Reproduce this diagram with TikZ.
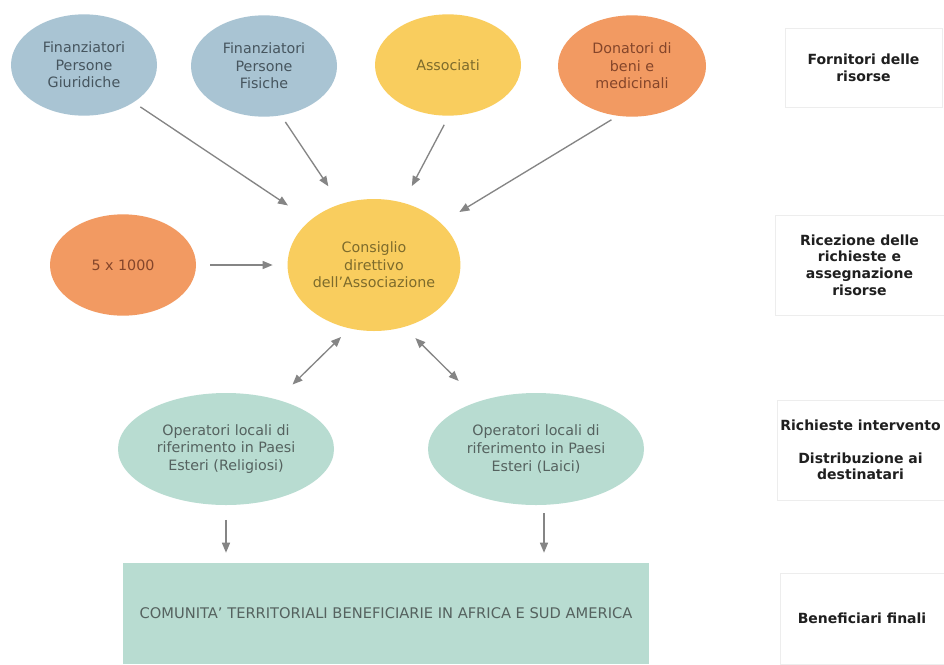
\documentclass[tikz,border=0pt]{standalone}
\usepackage{fontspec}
\setmainfont{DejaVu Sans}
\usetikzlibrary{arrows.meta,shapes.geometric}
\definecolor{cblue}{HTML}{A9C4D3}
\definecolor{cyellow}{HTML}{F9CD5E}
\definecolor{corange}{HTML}{F29A62}
\definecolor{cteal}{HTML}{B8DCD1}
\definecolor{tblue}{HTML}{46555E}
\definecolor{tyellow}{HTML}{7D6B2C}
\definecolor{torange}{HTML}{84452A}
\definecolor{tteal}{HTML}{55625F}
\definecolor{arrgray}{HTML}{858585}
\begin{document}
\begin{tikzpicture}[x=0.75pt,y=-0.75pt,
  ell/.style={ellipse, inner sep=0pt, align=center, font=\fontsize{10.7}{13.2}\selectfont},
  topell/.style={ell, minimum width=109.5pt, minimum height=76pt},
  blueell/.style={topell, fill=cblue, text=tblue},
  yellell/.style={fill=cyellow, text=tyellow},
  orell/.style={fill=corange, text=torange},
  tealell/.style={ell, fill=cteal, text=tteal, minimum width=162pt, minimum height=84pt},
  conn/.style={draw=arrgray, line width=1pt, -{Triangle[length=7.5pt,width=6pt]}},
  biconn/.style={draw=arrgray, line width=1pt, {Triangle[length=7.5pt,width=6pt]}-{Triangle[length=7.5pt,width=6pt]}},
  lab/.style={draw=black!7, align=center, inner sep=0pt, text=black!88, font=\fontsize{10.5}{12.5}\selectfont\bfseries},
]
\useasboundingbox (0,0) rectangle (944,664);
\fill[white] (0,0) rectangle (944,664);

% top row
\node[blueell] (e1) at (84,65) {Finanziatori\\Persone\\Giuridiche};
\node[blueell] (e2) at (264,66) {Finanziatori\\Persone\\Fisiche};
\node[topell, yellell] (e3) at (448,65) {Associati};
\node[topell, orell, minimum width=111pt] (e4) at (632,66) {Donatori di\\beni e\\medicinali};

% middle row
\node[topell, orell] (f) at (123,265) {5 x 1000};
\node[ell, yellell, minimum width=126pt, minimum height=99pt] (c) at (374,265) {Consiglio\\direttivo\\dell'Associazione};

% operators
\node[tealell] (r) at (226,449) {Operatori locali di\\riferimento in Paesi\\Esteri (Religiosi)};
\node[tealell] (l) at (536,449) {Operatori locali di\\riferimento in Paesi\\Esteri (Laici)};

% beneficiaries
\node[fill=cteal, text=tteal, minimum width=394.5pt, minimum height=75.75pt, inner sep=0pt,
      font=\fontsize{11}{13}\selectfont] (rect) at (386,613.5)
      {COMUNITA' TERRITORIALI BENEFICIARIE IN AFRICA E SUD AMERICA};

% right labels
\node[lab, minimum width=117.75pt, minimum height=59.25pt] (l1) at (863.5,67.5) {Fornitori delle\\risorse};
\node[lab, minimum width=126.75pt, minimum height=75pt] (l2) at (859.5,265) {Ricezione delle\\richieste e\\assegnazione\\risorse};
\node[lab, minimum width=125.25pt, minimum height=75pt] (l3) at (860.5,450) {Richieste intervento\\[12pt]Distribuzione ai\\destinatari};
\node[lab, minimum width=123pt, minimum height=68.25pt] (l4) at (862,618.5) {Beneficiari finali};

% connectors
\draw[conn, shorten <=6pt, shorten >=20pt] (e1.-37) -- (c.145.6);
\draw[conn, shorten <=5.8pt, shorten >=16pt] (e2.-71.6) -- (c.119.1);
\draw[conn, shorten <=7.5pt, shorten >=14pt] (e3.-89) -- (c.65.5);
\draw[conn, shorten <=5.5pt, shorten >=16pt] (e4.-106.6) -- (c.32.7);
\draw[conn, shorten <=10.5pt, shorten >=11pt] (f.0) -- (c.180);
\draw[biconn, shorten <=9pt, shorten >=16pt] (c.-111.4) -- (r.44.1);
\draw[biconn, shorten <=11.7pt, shorten >=21.5pt] (c.-64.7) -- (l.140.1);
\draw[conn, shorten <=11pt, shorten >=7.5pt] (r.south) -- (r.south |- rect.north);
\draw[conn, shorten <=6pt, shorten >=7.5pt] ([xshift=6pt]l.south) -- ([xshift=6pt]l.south |- rect.north);
\end{tikzpicture}
\end{document}
